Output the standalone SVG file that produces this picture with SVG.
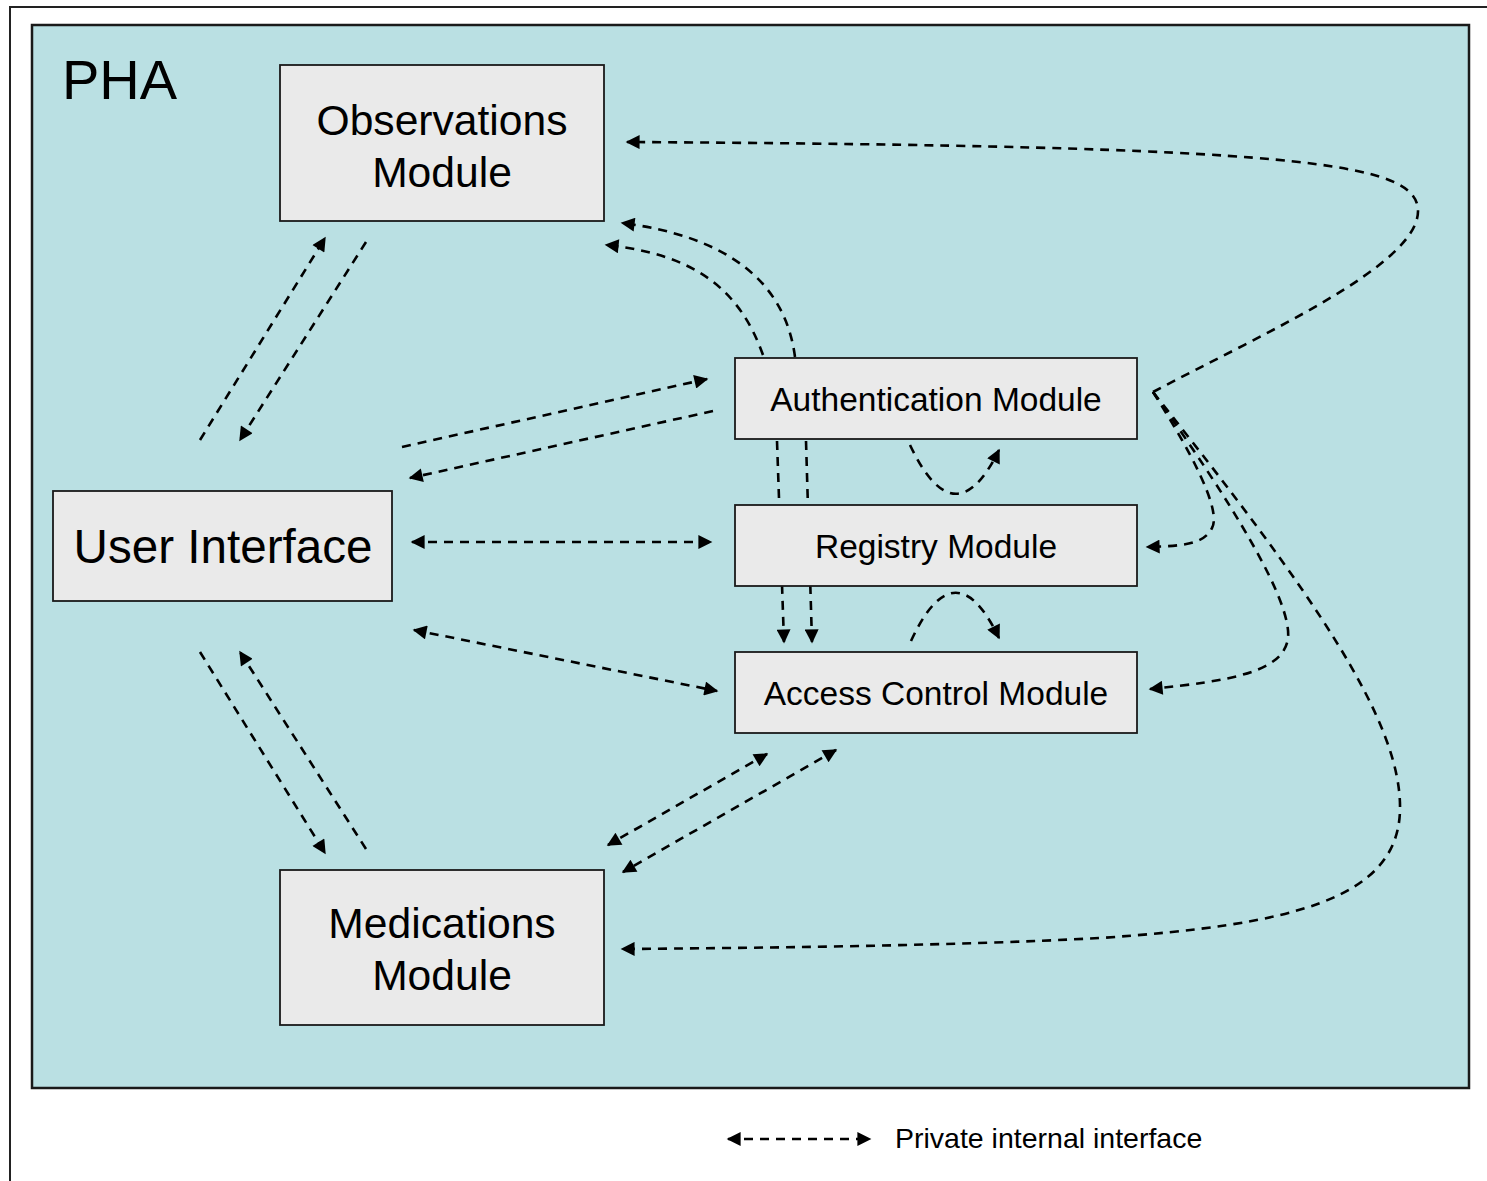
<svg xmlns="http://www.w3.org/2000/svg" width="1487" height="1181" viewBox="0 0 1487 1181">
<style>
  .frame{fill:#ffffff;stroke:#222;stroke-width:2}
  .pha{fill:#BAE0E3;stroke:#1a1a1a;stroke-width:2.5}
  .box{fill:#EAEAEA;stroke:#1a1a1a;stroke-width:1.8}
  .t{font-family:"Liberation Sans",Arial,sans-serif;fill:#000;text-anchor:middle}
  .c{fill:none;stroke:#000;stroke-width:2.6;stroke-dasharray:9 7}
  .e{marker-end:url(#ah)}
  .b{marker-start:url(#ah);marker-end:url(#ah)}
</style>
<defs>
  <marker id="ah" viewBox="0 0 10 10" refX="9" refY="5" markerWidth="17" markerHeight="14" markerUnits="userSpaceOnUse" orient="auto-start-reverse">
    <path d="M0,0 L10,5 L0,10 Z" fill="#000"/>
  </marker>
</defs>
<rect class="frame" x="10" y="7" width="1490" height="1190"/>
<rect class="pha" x="32" y="25" width="1437" height="1063"/>
<text class="t" x="62" y="99" font-size="56" style="text-anchor:start">PHA</text>

<g id="connectors">
  <line class="c e" x1="200" y1="440" x2="325" y2="238"/>
  <line class="c e" x1="366" y1="242" x2="240" y2="440"/>
  <line class="c e" x1="402" y1="447" x2="707" y2="379"/>
  <line class="c e" x1="713" y1="411" x2="410" y2="478"/>
  <line class="c b" x1="412" y1="542" x2="711" y2="542"/>
  <line class="c b" x1="414" y1="630" x2="717" y2="691"/>
  <line class="c e" x1="200" y1="652" x2="325" y2="853"/>
  <line class="c e" x1="366" y1="849" x2="240" y2="652"/>
  <line class="c b" x1="767" y1="754" x2="608" y2="845"/>
  <line class="c b" x1="836" y1="750" x2="623" y2="872"/>
  <path class="c e" d="M795,357 C785,280 725,236 622,223"/>
  <path class="c e" d="M763,355 C740,290 695,254 606,245"/>
  <path class="c e" d="M777,441 L784,642"/>
  <path class="c e" d="M806,441 L812,642"/>
  <path class="c e" d="M910,445 Q955,540 999,450"/>
  <path class="c e" d="M911,641 Q955,546 999,638"/>
  <path class="c e" d="M1153,392 C1260,335 1420,265 1418,210 C1416,162 1300,146 627,142"/>
  <path class="c e" d="M1153,392 C1190,450 1222,510 1212,528 C1204,545 1180,546 1147,547"/>
  <path class="c e" d="M1153,392 C1230,500 1292,600 1288,638 C1284,672 1230,681 1150,689"/>
  <path class="c e" d="M1153,392 C1310,590 1402,720 1400,810 C1398,900 1290,925 1100,938 C950,946 750,948 622,949"/>
  <line class="c b" x1="728" y1="1139" x2="870" y2="1139"/>
</g>

<g id="observations">
  <rect class="box" x="280" y="65" width="324" height="156"/>
  <text class="t" x="442" y="135" font-size="42.6">Observations</text>
  <text class="t" x="442" y="187" font-size="42.6">Module</text>
</g>
<g id="user-interface">
  <rect class="box" x="53" y="491" width="339" height="110"/>
  <text class="t" x="223" y="563" font-size="47.6">User Interface</text>
</g>
<g id="medications">
  <rect class="box" x="280" y="870" width="324" height="155"/>
  <text class="t" x="442" y="938" font-size="42.6">Medications</text>
  <text class="t" x="442" y="990" font-size="42.6">Module</text>
</g>
<g id="authentication">
  <rect class="box" x="735" y="358" width="402" height="81"/>
  <text class="t" x="936" y="411" font-size="33.5">Authentication Module</text>
</g>
<g id="registry">
  <rect class="box" x="735" y="505" width="402" height="81"/>
  <text class="t" x="936" y="558" font-size="33.5">Registry Module</text>
</g>
<g id="access-control">
  <rect class="box" x="735" y="652" width="402" height="81"/>
  <text class="t" x="936" y="705" font-size="33.5">Access Control Module</text>
</g>
<g id="legend">
  <text class="t" x="895" y="1148" font-size="28.5" style="text-anchor:start">Private internal interface</text>
</g>
</svg>
